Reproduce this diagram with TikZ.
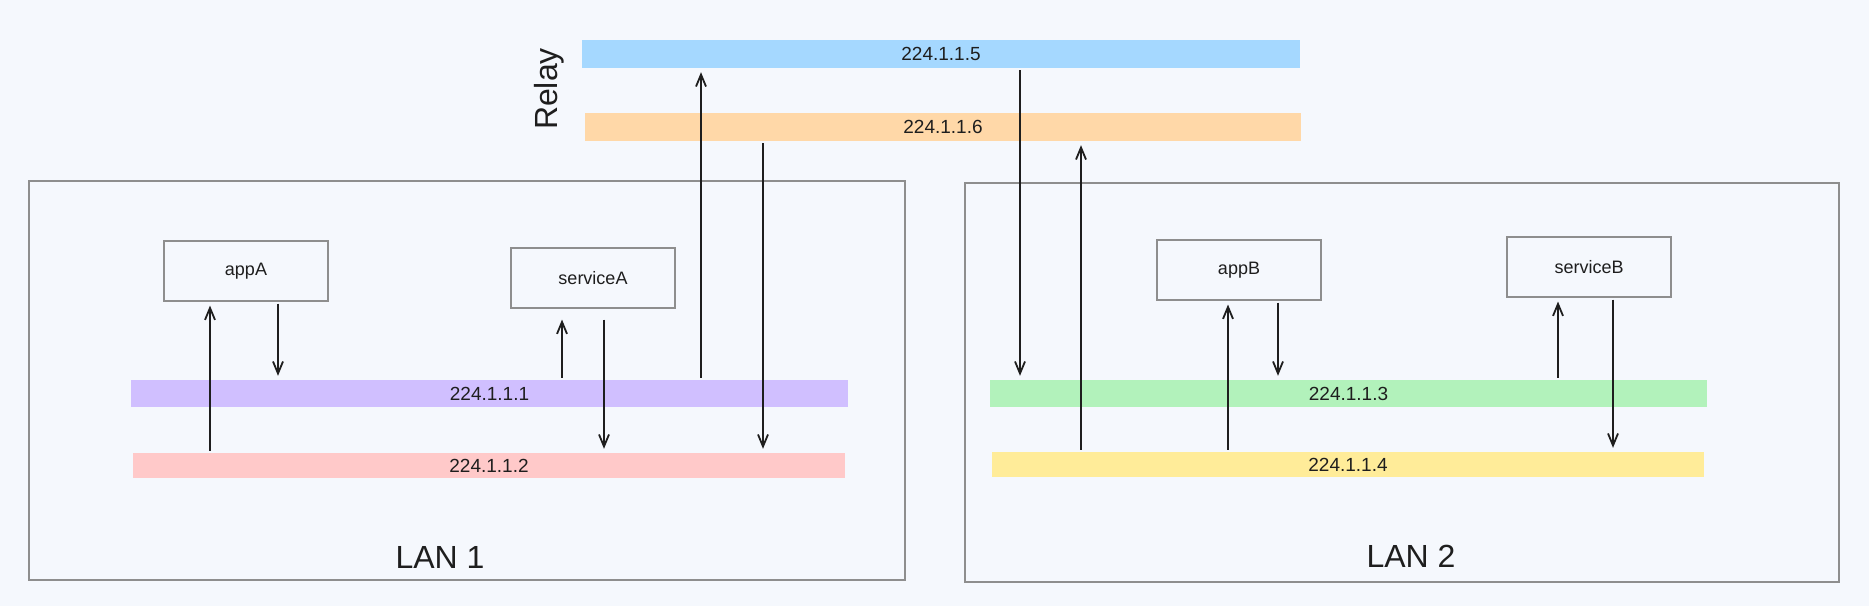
\documentclass[tikz,border=0pt]{standalone}
\usepackage{fontspec}
\setmainfont{Liberation Sans}
\usepackage{xcolor}
\usetikzlibrary{arrows.meta,positioning}
\definecolor{bg}{HTML}{F5F8FD}
\definecolor{frame}{HTML}{8E8E8E}
\definecolor{ink}{HTML}{1E1E1E}
\definecolor{violet}{HTML}{D0BFFF}
\definecolor{rose}{HTML}{FFC9C9}
\definecolor{mint}{HTML}{B2F2BB}
\definecolor{butter}{HTML}{FFEC99}
\definecolor{sky}{HTML}{A5D8FF}
\definecolor{peach}{HTML}{FFD8A8}

\begin{document}
\begin{tikzpicture}[x=1pt,y=-1pt,
    bus/.style={minimum width=717pt,minimum height=27pt,inner sep=0pt,
      font=\fontsize{19}{23}\selectfont,text=ink},
    app/.style={draw=frame,line width=1.1pt,minimum width=164pt,minimum height=60pt,
      inner sep=0pt,font=\fontsize{18}{22}\selectfont,text=ink},
    lan/.style={draw=frame,line width=1.1pt,inner sep=0pt},
    big/.style={font=\fontsize{32}{38}\selectfont,text=ink},
    flow/.style={draw=ink,line width=1.8pt,-{Straight Barb[length=12pt,width=10pt]},
      shorten >=4pt,shorten <=2pt}]
    \useasboundingbox[fill=bg] (0,0) rectangle (1869,606);

    % the two LANs
    \node[lan,minimum width=876pt,minimum height=399pt] (lan1) at (467,380.5) {};
    \node[lan,minimum width=874pt,minimum height=399pt] (lan2) at (1402,382.5) {};
    \node[big] (lan1txt) at (440,557) {LAN 1};
    \node[big] (lan2txt) at (1411,556) {LAN 2};

    % relay groups
    \node[bus,fill=sky,minimum width=718pt,minimum height=28pt] (bus5) at (941,54) {224.1.1.5};
    \node[bus,fill=peach,minimum width=716pt,minimum height=28pt] (bus6) at (943,127) {224.1.1.6};
    \node[big,rotate=90] (relay) at (549,89) {Relay};

    % multicast groups inside the LANs
    \node[bus,fill=violet] (bus1) at (489.5,393.5) {224.1.1.1};
    \node[bus,fill=rose,minimum width=712pt,minimum height=25pt] (bus2) at (489,465.5) {224.1.1.2};
    \node[bus,fill=mint] (bus3) at (1348.5,393.5) {224.1.1.3};
    \node[bus,fill=butter,minimum width=712pt,minimum height=25pt] (bus4) at (1348,464.5) {224.1.1.4};

    % processes
    \node[app] (appA) at (246,271) {appA};
    \node[app] (svcA) at (593,278) {serviceA};
    \node[app] (appB) at (1239,270) {appB};
    \node[app] (svcB) at (1589,267) {serviceB};

    % x positions of the arrows
    \coordinate (c1) at (210,0);
    \coordinate (c2) at (278,0);
    \coordinate (c3) at (562,0);
    \coordinate (c4) at (604,0);
    \coordinate (c5) at (701,0);
    \coordinate (c6) at (763,0);
    \coordinate (c7) at (1020,0);
    \coordinate (c8) at (1081,0);
    \coordinate (c9) at (1228,0);
    \coordinate (c10) at (1278,0);
    \coordinate (c11) at (1558,0);
    \coordinate (c12) at (1613,0);

    % LAN 1
    \draw[flow] (bus2.north -| c1) -- (appA.south -| c1);
    \draw[flow] (appA.south -| c2) -- (bus1.north -| c2);
    \draw[flow,shorten >=11pt] (bus1.north -| c3) -- (svcA.south -| c3);
    \draw[flow,shorten <=11pt] (svcA.south -| c4) -- (bus2.north -| c4);
    \draw[flow] (bus1.north -| c5) -- (bus5.south -| c5);
    \draw[flow] (bus6.south -| c6) -- (bus2.north -| c6);
    % LAN 2
    \draw[flow] (bus5.south -| c7) -- (bus3.north -| c7);
    \draw[flow] (bus4.north -| c8) -- (bus6.south -| c8);
    \draw[flow] (bus4.north -| c9) -- (appB.south -| c9);
    \draw[flow] (appB.south -| c10) -- (bus3.north -| c10);
    \draw[flow] (bus3.north -| c11) -- (svcB.south -| c11);
    \draw[flow] (svcB.south -| c12) -- (bus4.north -| c12);
\end{tikzpicture}
\end{document}
